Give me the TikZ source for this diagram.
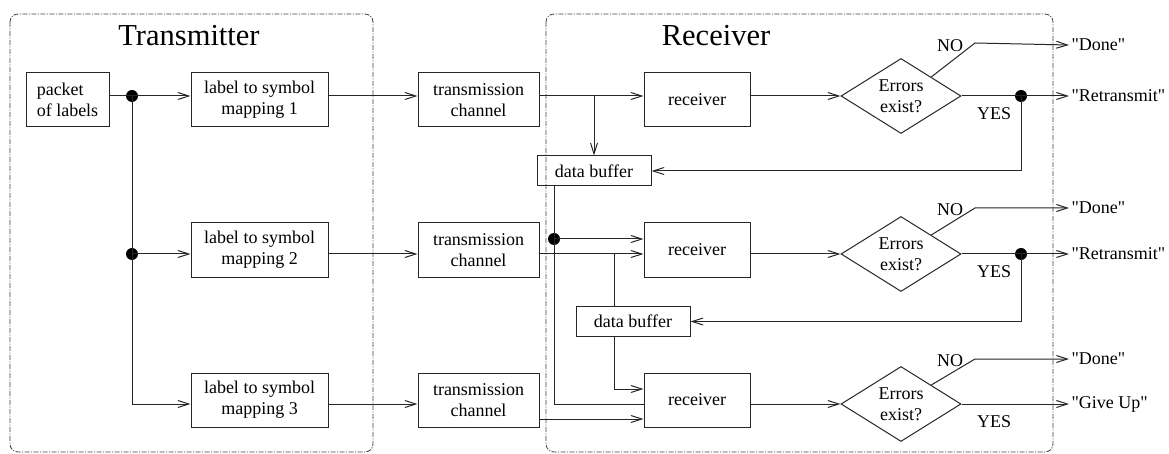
\documentclass[tikz,border=0pt]{standalone}
\usepackage{fontspec}
\setmainfont{Liberation Serif}[Ligatures=TeXOff]
\usetikzlibrary{arrows.meta,shapes.geometric}
\begin{document}
\begin{tikzpicture}[x=1pt,y=-1pt,
  line width=1pt, draw=black!85,
  every node/.style={font=\fontsize{18}{21}\selectfont, text=black},
  blk/.style={draw=black!85, rectangle, inner sep=0pt, align=center, minimum height=54},
  buf/.style={draw=black!85, rectangle, inner sep=0pt, align=center, minimum height=30, minimum width=114},
  dec/.style={draw=black!85, diamond, aspect=1.6, inner sep=0pt, minimum width=120, minimum height=75, align=center},
  frame/.style={draw=black!75, line width=0.8pt, rounded corners=8, dash pattern=on 5pt off 1.5pt on 1pt off 1.5pt},
  title/.style={font=\fontsize{30.5}{35}\selectfont},
  arr/.style={-{Straight Barb[length=11pt,width=7pt]}},
  dot/.style={circle, fill=black, inner sep=0pt, minimum size=12},
  outtxt/.style={anchor=west, inner sep=2pt},
  lbl/.style={inner sep=0pt}
]
\useasboundingbox (0,0) rectangle (1169,454);

% frames
\draw[frame] (10,14) rectangle (373,452);
\draw[frame] (546,14) rectangle (1053,452);
\node[title] (ttx) at (189,36) {Transmitter};
\node[title] (trx) at (716,36) {Receiver};

% transmitter blocks
\node[blk, minimum width=83, align=left] (pk) at (67.5,100) {packet\\of labels};
\node[blk, minimum width=137] (m1) at (259.5,100) {label to symbol\\mapping 1};
\node[blk, minimum width=137] (m2) at (259.5,250) {label to symbol\\mapping 2};
\node[blk, minimum width=137] (m3) at (259.5,400) {label to symbol\\mapping 3};

% channels
\node[blk, minimum width=121] (c1) at (478.5,100) {transmission\\channel};
\node[blk, minimum width=121] (c2) at (478.5,250) {transmission\\channel};
\node[blk, minimum width=121] (c3) at (478.5,400) {transmission\\channel};

% receivers
\node[blk, minimum width=106] (r1) at (697,100) {receiver};
\node[blk, minimum width=106] (r2) at (697,250) {receiver};
\node[blk, minimum width=106] (r3) at (697,400) {receiver};

% decisions
\node[dec] (d1) at (901,96) {Errors\\exist?};
\node[dec] (d2) at (901,254) {Errors\\exist?};
\node[dec] (d3) at (901,404) {Errors\\exist?};

% data buffers
\node[buf] (b1) at (594,171) {data buffer};
\node[buf] (b2) at (633,321.5) {data buffer};

% outputs
\node[outtxt] (o1n) at (1069,45) {"Done"};
\node[outtxt] (o1y) at (1069,96) {"Retransmit"};
\node[outtxt] (o2n) at (1069,208) {"Done"};
\node[outtxt] (o2y) at (1069,254) {"Retransmit"};
\node[outtxt] (o3n) at (1069,359) {"Done"};
\node[outtxt] (o3y) at (1069,404) {"Give Up"};

% yes/no labels
\node[lbl] (n1) at (950,46) {NO};
\node[lbl] (y1) at (994,114) {YES};
\node[lbl] (n2) at (950,210) {NO};
\node[lbl] (y2) at (994,272) {YES};
\node[lbl] (n3) at (950,361) {NO};
\node[lbl] (y3) at (994,422) {YES};

% junction dots
\node[dot] (j1) at (132,96) {};
\node[dot] (j2) at (132,254) {};
\node[dot] (j3) at (554,239) {};
\node[dot] (f1) at (1021,96) {};
\node[dot] (f2) at (1021,254) {};
\coordinate (k3) at (132,404);
\coordinate (t1) at (975,43);
\coordinate (t2) at (975,208);
\coordinate (t3) at (975,359);

% transmitter connections
\draw (pk.east |- j1) -- (j1.center);
\draw[arr] (j1.center) -- (m1.west |- j1);
\draw (j1.center) -- (k3);
\draw[arr] (j2.center) -- (m2.west |- j2);
\draw[arr] (k3) -- (m3.west |- k3);

% mapping -> channel
\draw[arr] (m1.east |- d1) -- (c1.west |- d1);
\draw[arr] (m2.east |- d2) -- (c2.west |- d2);
\draw[arr] (m3.east |- d3) -- (c3.west |- d3);

% channel -> receiver
\draw[arr] (c1.east |- d1) -- (r1.west |- d1);
\draw[arr] (b1.north |- d1) -- (b1.north);
\draw[arr] (c2.east |- d2) -- (r2.west |- d2);
\draw ([xshift=-19pt]b2.north |- d2) -- ([xshift=-19pt]b2.north);
\draw[arr] ([yshift=-19pt]c3.east) -- ([yshift=-19pt]r3.west);

% data buffer outputs
\draw (b1.south -| j3) -- (j3 |- d3) -- (r3.west |- d3);
\draw[arr] (j3.center) -- (r2.west |- j3);
\draw[arr] ([xshift=-19pt]b2.south) -- ([xshift=-19pt,yshift=11pt]r3.west -| b2.south) -- ([yshift=11pt]r3.west);

% receiver -> decision
\draw[arr] (r1.east |- d1) -- (d1.west);
\draw[arr] (r2.east |- d2) -- (d2.west);
\draw[arr] (r3.east |- d3) -- (d3.west);

% decision outputs
\draw[arr] (d1.north east) -- (t1) -- (o1n.west);
\draw (d1.east) -- (f1.center);
\draw[arr] (f1.center) -- (o1y.west);
\draw[arr] (f1.center) -- (f1 |- b1.east) -- (b1.east);

\draw[arr] (d2.north east) -- (t2) -- (o2n.west);
\draw (d2.east) -- (f2.center);
\draw[arr] (f2.center) -- (o2y.west);
\draw[arr] (f2.center) -- (f2 |- b2.east) -- (b2.east);

\draw[arr] (d3.north east) -- (t3) -- (o3n.west);
\draw[arr] (d3.east) -- (o3y.west);
\end{tikzpicture}
\end{document}
